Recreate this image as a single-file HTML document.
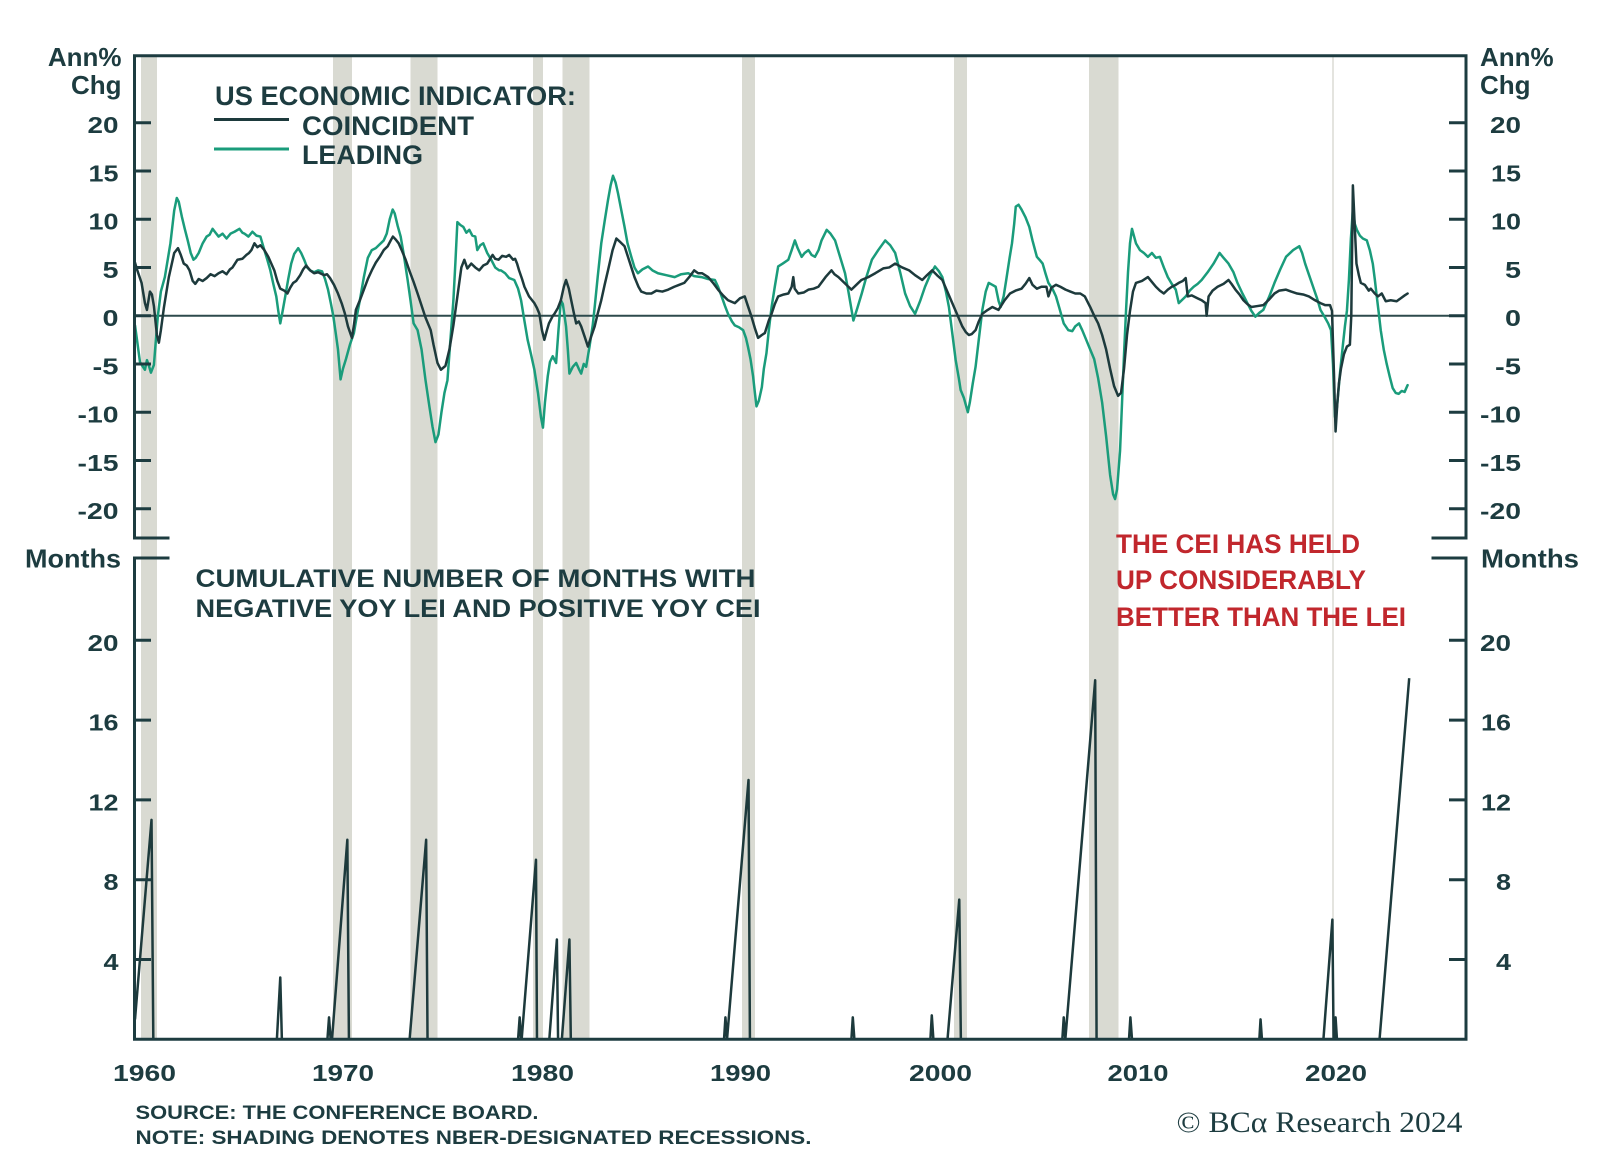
<!DOCTYPE html>
<html>
<head>
<meta charset="utf-8">
<style>
html,body{margin:0;padding:0;background:#fff;overflow:hidden;}
svg{display:block;}
.t{font-family:"Liberation Sans",Arial,sans-serif;font-weight:bold;fill:#1d3c40;}
.tk{font-family:"Liberation Sans",Arial,sans-serif;font-weight:bold;fill:#1d3c40;font-size:23px;}
.red{font-family:"Liberation Sans",Arial,sans-serif;font-weight:bold;fill:#c1272d;font-size:27px;}
</style>
</head>
<body>
<svg width="1600" height="1160" viewBox="0 0 1600 1160" xmlns="http://www.w3.org/2000/svg">
<rect width="1600" height="1160" fill="#ffffff"/>

<!-- recession bands -->
<g fill="#d9dad2">
<rect x="141" y="57" width="16" height="981"/>
<rect x="333" y="57" width="19" height="981"/>
<rect x="410.5" y="57" width="27" height="981"/>
<rect x="533" y="57" width="10" height="981"/>
<rect x="562.5" y="57" width="27" height="981"/>
<rect x="742" y="57" width="13" height="981"/>
<rect x="954" y="57" width="13" height="981"/>
<rect x="1089" y="57" width="29.5" height="981"/>
</g>
<rect x="1332" y="57" width="2" height="981" fill="#e4e4df"/>

<!-- zero line -->
<line x1="134" y1="315.7" x2="1466" y2="315.7" stroke="#2d4a4c" stroke-width="2"/>

<!-- upper series -->
<g transform="matrix(19.9 0 0 -9.65 135 315.7)" fill="none" stroke-linejoin="round" stroke-linecap="round">
<polyline vector-effect="non-scaling-stroke" stroke="#1a9c7b" stroke-width="2.5" points="0,-1 0.1,-2.5 0.25,-4.8 0.4,-5.3 0.5,-5.6 0.6,-4.6 0.7,-5.2 0.8,-5.9 0.95,-5.1 1.05,-2.5 1.15,0 1.3,2.5 1.5,4 1.78,7.5 1.97,10.9 2.1,12.2 2.2,11.8 2.35,10.3 2.5,9 2.65,7.8 2.8,6.5 2.94,5.8 3.05,6 3.2,6.5 3.4,7.5 3.6,8.2 3.75,8.4 3.9,9 4.05,8.6 4.2,8.2 4.4,8.5 4.6,8 4.8,8.5 5,8.7 5.25,9 5.4,8.6 5.5,8.5 5.7,8.2 5.9,8.7 6.1,8.3 6.3,8.2 6.5,6.8 6.65,5.8 6.8,4.7 6.95,3.3 7.1,2 7.2,0.5 7.3,-0.8 7.42,0.5 7.55,2 7.7,3.8 7.85,5.4 8,6.4 8.2,7 8.35,6.5 8.5,5.8 8.65,5 8.8,4.7 9,4.5 9.2,4.7 9.4,4.6 9.55,3.8 9.7,2.7 9.85,1.2 9.97,-0.1 10.1,-2 10.2,-3.5 10.33,-6.6 10.45,-5.5 10.6,-4.5 10.8,-3 11,-1.8 11.15,0 11.3,1.6 11.5,4 11.7,6 11.9,6.8 12.1,7 12.3,7.4 12.5,7.8 12.65,8.5 12.8,10 12.95,11 13.05,10.6 13.2,9.3 13.35,8.2 13.5,6.4 13.7,3.7 13.85,1.5 14,-0.8 14.2,-1.5 14.4,-3.5 14.6,-6.7 14.8,-9.5 14.95,-11.5 15.1,-13.1 15.25,-12.3 15.4,-10 15.55,-8 15.7,-6.7 15.85,-2.5 16,1.6 16.1,5.5 16.2,9.7 16.35,9.4 16.5,9.2 16.65,8.6 16.8,8.9 16.95,8.3 17.1,8.2 17.2,6.8 17.35,7.3 17.5,7.5 17.7,6.5 17.9,5.8 18.1,5 18.3,4.7 18.39,4.7 18.6,4.4 18.8,3.9 19.06,3.7 19.25,2.8 19.4,1.6 19.55,-0.3 19.73,-2.5 19.9,-4 20.07,-5.6 20.25,-8 20.4,-10.5 20.5,-11.6 20.6,-9 20.74,-6.3 20.85,-4.8 20.99,-4.2 21.16,-4.9 21.28,-1.5 21.4,1.6 21.5,1.2 21.66,-1.1 21.75,-3.5 21.83,-6 22,-5.3 22.17,-4.9 22.3,-5.5 22.42,-6 22.55,-5 22.67,-5.3 22.84,-3.2 23,-1 23.1,0.9 23.25,4 23.43,7.5 23.6,9.8 23.77,12 23.9,13.5 24.02,14.5 24.15,13.8 24.27,12.7 24.45,10.8 24.6,9.2 24.75,7.5 24.94,6.1 25.1,5 25.27,4.4 25.5,4.8 25.78,5.1 26,4.7 26.28,4.4 26.7,4.2 27.12,4 27.45,4.3 27.8,4.4 28.1,4.1 28.47,4 28.8,3.8 29.14,3.7 29.3,3 29.48,2 29.65,1 29.8,0.2 30,-0.6 30.14,-1 30.35,-1.2 30.56,-1.5 30.7,-2.3 30.8,-3.2 30.93,-4.5 31.06,-6.3 31.15,-8 31.23,-9.4 31.35,-8.8 31.5,-7.4 31.6,-5.5 31.73,-3.9 31.85,-1.5 31.99,0.9 32.15,3 32.32,5.1 32.55,5.4 32.83,5.8 33,6.8 33.16,7.8 33.3,7 33.5,6.1 33.65,6.5 33.84,6.8 34,6.3 34.17,6.1 34.35,6.8 34.5,7.8 34.76,8.9 34.95,8.5 35.18,7.8 35.4,6.3 35.68,4.4 35.85,2.5 36.1,-0.5 36.3,0.8 36.52,2.3 36.75,4 37.03,5.8 37.35,6.8 37.7,7.8 37.95,7.3 38.2,6.5 38.45,4.5 38.7,2.3 38.95,1 39.2,0.2 39.45,1.5 39.7,3 39.95,4.2 40.2,5.1 40.4,4.6 40.57,4 40.75,2.5 40.9,0.9 41.05,-1.5 41.24,-4.6 41.4,-6.5 41.49,-7.7 41.65,-8.5 41.85,-10 41.95,-9 42.1,-7 42.24,-5.3 42.4,-2.5 42.58,0.6 42.75,2.5 42.9,3.4 43.08,3.2 43.25,3 43.4,1.5 43.5,0.9 43.65,2 43.78,3.7 43.95,6 44.07,7.5 44.18,9.5 44.26,11.3 44.4,11.5 44.55,11 44.75,10.2 44.94,9.2 45.1,7.8 45.32,6.1 45.45,5.8 45.61,5.4 45.75,4.4 45.9,3.4 46.1,2.8 46.28,2 46.45,0.8 46.67,-0.8 46.9,-1.5 47.1,-1.6 47.25,-1.1 47.44,-0.8 47.6,-1.5 47.8,-2.5 48,-3.5 48.2,-4.5 48.4,-6.5 48.6,-9 48.8,-12.5 49,-16.5 49.15,-18.5 49.25,-19 49.35,-18 49.5,-14 49.6,-9 49.7,-4 49.8,0.5 49.9,4.5 50,7.5 50.1,9 50.3,7.5 50.5,6.8 50.7,6.5 50.9,6.1 51.1,6.5 51.3,6 51.5,6.1 51.7,5 51.9,4 52.1,3.3 52.3,2.7 52.45,1.3 52.6,1.6 52.8,2 53,2.6 53.2,3 53.4,3.3 53.6,3.7 53.9,4.5 54.2,5.4 54.5,6.5 54.7,6 54.95,5.4 55.2,4.5 55.4,3.4 55.65,2.3 55.9,1.3 56.1,0.5 56.3,-0.1 56.5,0.3 56.7,0.6 57,2 57.26,3.4 57.55,4.8 57.84,6.1 58.2,6.8 58.51,7.2 58.65,6.5 58.8,5.4 59,4.2 59.2,3 59.4,1.8 59.57,0.6 59.8,-0.2 59.96,-0.8 60.1,-1.5 60.2,-5 60.3,-10.5 60.4,-9.5 60.55,-6 60.7,-3 60.8,-1.1 60.9,0.5 61,3.7 61.1,8 61.2,11 61.3,9.5 61.4,8.9 61.55,8.3 61.7,8 61.9,7.8 62.05,6.8 62.2,5.4 62.3,3.8 62.4,2 62.5,0.3 62.6,-1.5 62.75,-3.5 62.9,-5 63.05,-6.3 63.2,-7.5 63.35,-8 63.5,-8.1 63.65,-7.8 63.8,-7.9 63.95,-7.2"/>
<polyline vector-effect="non-scaling-stroke" stroke="#1d3a3c" stroke-width="2.5" points="0,5.5 0.1,4.8 0.33,3.4 0.5,1.3 0.6,0.6 0.75,2.5 0.85,2.2 0.95,1 1.1,-2 1.2,-2.8 1.3,-1.5 1.45,0.8 1.7,4 1.97,6.5 2.16,7 2.3,6.3 2.45,5.4 2.6,5.2 2.74,4.7 2.9,3.6 3.03,3.3 3.2,3.8 3.4,3.6 3.6,3.9 3.8,4.3 4,4.1 4.2,4.4 4.4,4.6 4.6,4.3 4.77,4.8 4.9,5 5.15,5.8 5.4,5.9 5.6,6.3 5.73,6.5 5.85,6.8 6,7.5 6.15,7.1 6.3,7.3 6.5,6.8 6.7,6.1 6.85,5.4 7,4.7 7.15,3.6 7.3,2.8 7.5,2.6 7.66,2.3 7.8,2.9 7.95,3.4 8.1,3.6 8.3,4.2 8.45,4.8 8.6,5.2 8.8,4.7 9,4.4 9.2,4.5 9.5,4.2 9.65,4.3 9.8,3.9 10,3.2 10.2,2.3 10.4,1.2 10.55,0.2 10.7,-1.1 10.9,-2.3 11,-1 11.1,0.6 11.3,1.6 11.5,2.7 11.7,3.8 11.9,4.7 12.1,5.5 12.3,6.1 12.5,6.8 12.7,7.2 12.85,7.8 12.96,8.2 13.1,7.9 13.25,7.5 13.4,6.8 13.6,5.8 13.8,4.6 14,3.5 14.2,2.3 14.36,1.3 14.6,-0.2 14.86,-1.5 15,-3 15.2,-4.9 15.37,-5.6 15.6,-5.2 15.8,-3.5 16,-1 16.2,2 16.4,5 16.55,5.8 16.7,4.9 16.9,5.4 17.1,5 17.3,4.7 17.5,5.2 17.7,5.4 17.97,6.3 18.1,5.9 18.27,5.8 18.45,6.2 18.65,6.1 18.8,6.3 19,5.8 19.1,5.9 19.2,5.4 19.3,4.7 19.45,3.8 19.57,3 19.8,2 20.07,1.3 20.2,0.8 20.32,0.2 20.45,-1.5 20.57,-2.5 20.7,-1.5 20.8,-0.8 21,0 21.08,0.2 21.25,0.8 21.4,1.6 21.55,3 21.66,3.7 21.8,2.8 21.92,1.6 22.05,0.3 22.17,-0.8 22.3,-0.6 22.42,-1.1 22.6,-2.2 22.76,-3.2 22.9,-2.3 23.1,-1.1 23.25,0.2 23.43,1.6 23.6,3.2 23.77,4.7 24,6.8 24.19,8 24.35,7.7 24.6,7.2 24.85,5.6 25.1,4 25.3,3 25.44,2.5 25.7,2.3 25.95,2.3 26.2,2.6 26.5,2.5 26.79,2.7 27.1,3 27.35,3.2 27.6,3.4 27.85,4 28.1,4.7 28.3,4.4 28.5,4.4 28.8,4 29.05,3.4 29.3,2.7 29.55,2.1 29.8,1.6 30.14,1.3 30.4,1.8 30.64,2 30.8,1 30.98,-0.1 31.15,-1.3 31.31,-2.3 31.5,-2 31.65,-1.8 31.85,-0.5 31.99,0.2 32.15,1.2 32.32,2 32.6,2.2 32.83,2.3 33,3 33.08,4 33.15,2.8 33.33,2.3 33.6,2.4 33.84,2.7 34.1,2.8 34.34,3 34.7,4 35,4.7 35.15,4.3 35.35,4 35.7,3.3 36,2.7 36.25,3.2 36.5,3.7 36.85,4 37.2,4.4 37.6,4.9 37.9,5 38.2,5.4 38.55,5 38.9,4.7 39.2,4.2 39.56,3.7 39.8,4.2 40.06,4.7 40.3,4.2 40.57,3.7 40.8,2.6 41.07,1.3 41.3,0.2 41.57,-1.1 41.75,-1.7 41.9,-2 42.05,-1.9 42.24,-1.5 42.4,-0.6 42.58,0.2 42.85,0.6 43.08,0.9 43.39,0.6 43.7,1.6 43.97,2.3 44.25,2.6 44.55,2.8 44.75,3.3 44.94,3.9 45.1,3.2 45.32,2.8 45.55,3 45.8,3 45.9,2 46.05,2.9 46.28,3.2 46.5,3 46.76,2.7 47,2.5 47.25,2.3 47.5,2.3 47.73,2 48,0.9 48.2,0 48.4,-0.8 48.6,-2 48.8,-3.5 49,-5.5 49.2,-7.3 49.4,-8.3 49.55,-8 49.7,-5.5 49.85,-2 50,0.5 50.15,2.5 50.3,3.4 50.6,3.6 50.9,4 51.1,3.5 51.3,3 51.5,2.6 51.7,2.3 51.9,2.7 52.1,3 52.3,3.2 52.45,3.4 52.65,3.6 52.8,3.9 52.9,2 53.1,2.1 53.4,1.8 53.6,1.6 53.8,1.3 53.85,0 53.95,2 54.15,2.6 54.4,3 54.7,3.3 54.95,3.7 55.1,3.3 55.3,2.7 55.5,2.2 55.7,1.6 55.9,1.2 56.1,0.9 56.4,1 56.7,1.1 57,1.7 57.26,2.3 57.5,2.6 57.84,2.7 58.1,2.5 58.4,2.3 58.7,2.2 58.99,2 59.3,1.6 59.57,1.3 59.8,1.1 60.05,1.1 60.15,0.5 60.25,-6 60.33,-12 60.42,-9 60.5,-7 60.6,-5.5 60.75,-4 60.9,-3.2 61.05,-3 61.12,0 61.2,13.5 61.3,9 61.38,5.4 61.5,4.2 61.6,3.4 61.8,3.2 62,2.6 62.1,2.8 62.3,2.3 62.46,2 62.65,2.3 62.85,1.5 63.1,1.6 63.4,1.5 63.6,1.8 63.8,2.1 63.95,2.3"/>
</g>

<!-- lower series -->
<g transform="matrix(19.9 0 0 -19.95 135 1039.3)" fill="none" stroke-linejoin="round">
<polyline vector-effect="non-scaling-stroke" stroke="#1d3a3c" stroke-width="2.5" points="0,1 0.83,11 0.92,0 7.13,0 7.3,3.1 7.38,0 9.67,0 9.75,1.1 9.83,0 9.9,0 10.67,10 10.75,0 13.8,0 14.63,10 14.7,0 19.25,0 19.33,1.1 19.4,0 19.43,0 20.15,9 20.2,0 20.82,0 21.2,5 21.26,0 21.45,0 21.83,5 21.9,0 29.6,0 29.67,1.1 29.75,0 30.83,13 30.9,0 36,0 36.07,1.1 36.15,0 39.97,0 40.04,1.2 40.12,0 40.83,0 41.42,7 41.5,0 46.6,0 46.67,1.1 46.75,0 48.25,18 48.32,0 49.95,0 50.02,1.1 50.1,0 56.5,0 56.56,1 56.63,0 59.72,0 60.17,6 60.23,0 60.27,0 60.33,1.1 60.4,0 62.54,0 64.03,18.1"/>
</g>

<!-- axes frame -->
<g stroke="#1d3c40" stroke-width="3" fill="none" stroke-linecap="square">
<polyline points="168,538 134.5,538 134.5,55.7 1466,55.7 1466,538 1433,538"/>
<polyline points="168,558 134.5,558 134.5,1039.3 1466,1039.3 1466,558 1433,558"/>
</g>
<!-- ticks -->
<g stroke="#1d3c40" stroke-width="3">
<line x1="134" y1="122.7" x2="151" y2="122.7"/><line x1="134" y1="171" x2="151" y2="171"/>
<line x1="134" y1="219.2" x2="151" y2="219.2"/><line x1="134" y1="267.5" x2="151" y2="267.5"/>
<line x1="134" y1="315.7" x2="151" y2="315.7"/><line x1="134" y1="364" x2="151" y2="364"/>
<line x1="134" y1="412.2" x2="151" y2="412.2"/><line x1="134" y1="460.5" x2="151" y2="460.5"/>
<line x1="134" y1="508.7" x2="151" y2="508.7"/>
<line x1="1449" y1="122.7" x2="1466" y2="122.7"/><line x1="1449" y1="171" x2="1466" y2="171"/>
<line x1="1449" y1="219.2" x2="1466" y2="219.2"/><line x1="1449" y1="267.5" x2="1466" y2="267.5"/>
<line x1="1449" y1="315.7" x2="1466" y2="315.7"/><line x1="1449" y1="364" x2="1466" y2="364"/>
<line x1="1449" y1="412.2" x2="1466" y2="412.2"/><line x1="1449" y1="460.5" x2="1466" y2="460.5"/>
<line x1="1449" y1="508.7" x2="1466" y2="508.7"/>
<line x1="134" y1="640.3" x2="151" y2="640.3"/><line x1="134" y1="720.1" x2="151" y2="720.1"/>
<line x1="134" y1="799.9" x2="151" y2="799.9"/><line x1="134" y1="879.7" x2="151" y2="879.7"/>
<line x1="134" y1="959.5" x2="151" y2="959.5"/>
<line x1="1449" y1="640.3" x2="1466" y2="640.3"/><line x1="1449" y1="720.1" x2="1466" y2="720.1"/>
<line x1="1449" y1="799.9" x2="1466" y2="799.9"/><line x1="1449" y1="879.7" x2="1466" y2="879.7"/>
<line x1="1449" y1="959.5" x2="1466" y2="959.5"/>
</g>

<!-- axis titles -->
<text class="t" font-size="26" x="121.5" y="66" text-anchor="end">Ann%</text>
<text class="t" font-size="26" x="121.5" y="94" text-anchor="end">Chg</text>
<text class="t" font-size="26" x="1480" y="66">Ann%</text>
<text class="t" font-size="26" x="1480" y="94">Chg</text>
<text class="t" font-size="26" x="121" y="567.5" text-anchor="end" textLength="96" lengthAdjust="spacingAndGlyphs">Months</text>
<text class="t" font-size="26" x="1481" y="567.5" textLength="98" lengthAdjust="spacingAndGlyphs">Months</text>

<!-- left upper tick labels -->
<g class="tk" text-anchor="end">
<text x="118.5" y="133.2" textLength="31" lengthAdjust="spacingAndGlyphs">20</text>
<text x="118.5" y="181.5" textLength="30" lengthAdjust="spacingAndGlyphs">15</text>
<text x="118.5" y="229.7" textLength="30" lengthAdjust="spacingAndGlyphs">10</text>
<text x="118.5" y="278" textLength="16" lengthAdjust="spacingAndGlyphs">5</text>
<text x="118.5" y="326.2" textLength="16" lengthAdjust="spacingAndGlyphs">0</text>
<text x="118.5" y="374.5" textLength="26" lengthAdjust="spacingAndGlyphs">-5</text>
<text x="118.5" y="422.7" textLength="41" lengthAdjust="spacingAndGlyphs">-10</text>
<text x="118.5" y="471" textLength="41" lengthAdjust="spacingAndGlyphs">-15</text>
<text x="118.5" y="519.2" textLength="41" lengthAdjust="spacingAndGlyphs">-20</text>
</g>
<!-- right upper tick labels -->
<g class="tk" text-anchor="end">
<text x="1521" y="133.2" textLength="31" lengthAdjust="spacingAndGlyphs">20</text>
<text x="1521" y="181.5" textLength="30" lengthAdjust="spacingAndGlyphs">15</text>
<text x="1521" y="229.7" textLength="30" lengthAdjust="spacingAndGlyphs">10</text>
<text x="1521" y="278" textLength="16" lengthAdjust="spacingAndGlyphs">5</text>
<text x="1521" y="326.2" textLength="16" lengthAdjust="spacingAndGlyphs">0</text>
<text x="1521" y="374.5" textLength="26" lengthAdjust="spacingAndGlyphs">-5</text>
<text x="1521" y="422.7" textLength="41" lengthAdjust="spacingAndGlyphs">-10</text>
<text x="1521" y="471" textLength="41" lengthAdjust="spacingAndGlyphs">-15</text>
<text x="1521" y="519.2" textLength="41" lengthAdjust="spacingAndGlyphs">-20</text>
</g>
<!-- lower tick labels -->
<g class="tk" text-anchor="end">
<text x="118.5" y="650.8" textLength="31" lengthAdjust="spacingAndGlyphs">20</text>
<text x="118.5" y="730.6" textLength="30" lengthAdjust="spacingAndGlyphs">16</text>
<text x="118.5" y="810.4" textLength="30" lengthAdjust="spacingAndGlyphs">12</text>
<text x="118.5" y="890.2" textLength="15" lengthAdjust="spacingAndGlyphs">8</text>
<text x="118.5" y="970" textLength="15" lengthAdjust="spacingAndGlyphs">4</text>
<text x="1511" y="650.8" textLength="31" lengthAdjust="spacingAndGlyphs">20</text>
<text x="1511" y="730.6" textLength="30" lengthAdjust="spacingAndGlyphs">16</text>
<text x="1511" y="810.4" textLength="30" lengthAdjust="spacingAndGlyphs">12</text>
<text x="1511" y="890.2" textLength="15" lengthAdjust="spacingAndGlyphs">8</text>
<text x="1511" y="970" textLength="15" lengthAdjust="spacingAndGlyphs">4</text>
</g>
<!-- x labels -->
<g class="tk" text-anchor="middle">
<text x="144.5" y="1081" textLength="63" lengthAdjust="spacingAndGlyphs">1960</text>
<text x="343" y="1081" textLength="62" lengthAdjust="spacingAndGlyphs">1970</text>
<text x="542.5" y="1081" textLength="63" lengthAdjust="spacingAndGlyphs">1980</text>
<text x="740.5" y="1081" textLength="61" lengthAdjust="spacingAndGlyphs">1990</text>
<text x="940.5" y="1081" textLength="63" lengthAdjust="spacingAndGlyphs">2000</text>
<text x="1138" y="1081" textLength="61" lengthAdjust="spacingAndGlyphs">2010</text>
<text x="1336" y="1081" textLength="62" lengthAdjust="spacingAndGlyphs">2020</text>
</g>

<!-- legend -->
<text class="t" font-size="27" x="215" y="105" textLength="361" lengthAdjust="spacingAndGlyphs">US ECONOMIC INDICATOR:</text>
<line x1="214" y1="119.5" x2="289" y2="119.5" stroke="#1d3a3c" stroke-width="3"/>
<text class="t" font-size="27" x="302" y="135" textLength="172" lengthAdjust="spacingAndGlyphs">COINCIDENT</text>
<line x1="214" y1="149" x2="289" y2="149" stroke="#1a9c7b" stroke-width="3"/>
<text class="t" font-size="27" x="302" y="164" textLength="121" lengthAdjust="spacingAndGlyphs">LEADING</text>

<!-- lower panel title -->
<text class="t" font-size="25" x="195.5" y="587" textLength="560" lengthAdjust="spacingAndGlyphs">CUMULATIVE NUMBER OF MONTHS WITH</text>
<text class="t" font-size="25" x="195.5" y="617" textLength="565" lengthAdjust="spacingAndGlyphs">NEGATIVE YOY LEI AND POSITIVE YOY CEI</text>

<!-- red annotation -->
<text class="red" x="1116" y="553" textLength="244" lengthAdjust="spacingAndGlyphs">THE CEI HAS HELD</text>
<text class="red" x="1116" y="589" textLength="250" lengthAdjust="spacingAndGlyphs">UP CONSIDERABLY</text>
<text class="red" x="1116" y="626" textLength="290" lengthAdjust="spacingAndGlyphs">BETTER THAN THE LEI</text>

<!-- footer -->
<text class="t" font-size="19" x="135.5" y="1119" textLength="403" lengthAdjust="spacingAndGlyphs">SOURCE: THE CONFERENCE BOARD.</text>
<text class="t" font-size="19" x="135.5" y="1144" textLength="676" lengthAdjust="spacingAndGlyphs">NOTE: SHADING DENOTES NBER-DESIGNATED RECESSIONS.</text>
<text x="1176.5" y="1132" font-family="'Liberation Serif','DejaVu Serif',serif" font-size="30" fill="#1d3c40" textLength="286" lengthAdjust="spacingAndGlyphs">© BCα Research 2024</text>
</svg>
</body>
</html>
